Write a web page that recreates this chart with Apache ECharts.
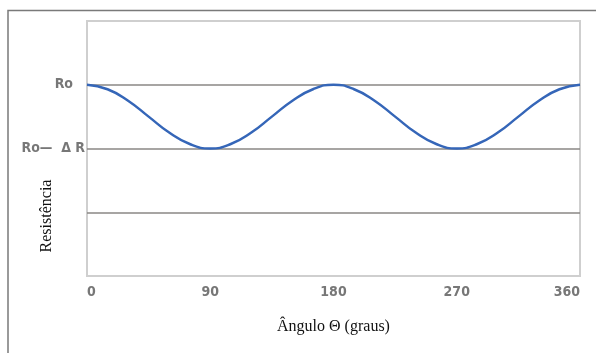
<!DOCTYPE html>
<html>
<head>
<meta charset="utf-8">
<script src="https://cdn.jsdelivr.net/npm/echarts@6/dist/echarts.min.js"></script>
<style>
  html, body { margin: 0; padding: 0; background: #fff; }
  #main { width: 596px; height: 353px; }
</style>
</head>
<body>
<div id="main"></div>
<script>
// angulo (graus) e resistencia (Ro = 3, Ro - dR = 2)
var angles = [0, 15, 30, 45, 60, 75, 90, 105, 120, 135, 150, 165, 180,
  195, 210, 225, 240, 255, 270, 285, 300, 315, 330, 345, 360];
var resist = [3, 2.93, 2.75, 2.5, 2.25, 2.07, 2, 2.07, 2.25, 2.5, 2.75, 2.93, 3,
  2.93, 2.75, 2.5, 2.25, 2.07, 2, 2.07, 2.25, 2.5, 2.75, 2.93, 3];
var yTickValues = [3, 2];
var yTickLabels = ['Ro', 'Ro—  Δ R'];

var myChart = echarts.init(document.getElementById('main'));

var points = [];
for (var i = 0; i < angles.length; i++) {
  points.push([angles[i], resist[i]]);
}

var tickFont = "'DejaVu Sans Condensed', 'Liberation Sans Narrow', sans-serif";
var serifFont = "'Liberation Serif', 'DejaVu Serif', serif";

var option = {
  animation: false,
  backgroundColor: '#fff',
  grid: {
    left: 87, right: 16, top: 21, bottom: 77,
    show: true, borderColor: '#cfcfcf', borderWidth: 2
  },
  // moldura externa (cortada a direita e embaixo)
  graphic: [
    {
      type: 'rect', silent: true,
      shape: { x: 8, y: 10.5, width: 700, height: 400 },
      style: { fill: 'none', stroke: '#7a7a7a', lineWidth: 1.5 }
    },
    {
      type: 'text', x: 47, y: 216, rotation: Math.PI / 2,
      style: {
        text: 'Resistência', fill: '#111', font: '16px ' + serifFont,
        align: 'center', verticalAlign: 'middle'
      }
    }
  ],
  xAxis: {
    type: 'value', min: 0, max: 360, interval: 90,
    name: 'Ângulo Θ (graus)', nameLocation: 'middle', nameGap: 43,
    nameTextStyle: { fontFamily: serifFont, fontSize: 16, color: '#111' },
    axisLine: { show: false },
    axisTick: { show: false },
    splitLine: { show: false },
    axisLabel: {
      margin: 9, color: '#777', fontWeight: 'bold', fontSize: 14,
      fontFamily: tickFont, alignMinLabel: 'left', alignMaxLabel: 'right'
    }
  },
  yAxis: {
    type: 'value', min: 0, max: 4, interval: 1,
    axisLine: { show: false },
    axisTick: { show: false },
    splitLine: {
      show: true,
      lineStyle: { color: ['#cfcfcf', '#8a8784', '#8a8784', '#8a8784', '#cfcfcf'], width: 1.5 }
    },
    axisLabel: {
      margin: 2, color: '#777', fontWeight: 'bold', fontSize: 14, fontFamily: tickFont,
      formatter: function (v) {
        var k = yTickValues.indexOf(v);
        if (k < 0) return '';
        return v === 3 ? '{a|' + yTickLabels[k] + '}' : yTickLabels[k];
      },
      rich: {
        a: { color: '#777', fontWeight: 'bold', fontSize: 14, fontFamily: tickFont, padding: [0, 12, 0, 0] }
      }
    }
  },
  series: [{
    type: 'line',
    data: points,
    smooth: true,
    showSymbol: false,
    lineStyle: { color: '#3566b8', width: 2.5 }
  }]
};

myChart.setOption(option);
</script>
</body>
</html>
